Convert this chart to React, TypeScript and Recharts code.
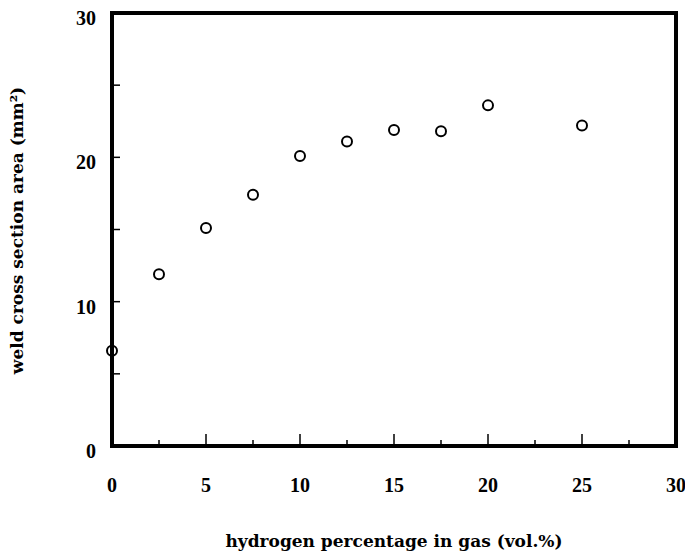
import { ReferenceArea, Scatter, ScatterChart, XAxis, YAxis } from 'recharts'

const hydrogen = [0, 2.5, 5, 7.5, 10, 12.5, 15, 17.5, 20, 25]
const area = [6.6, 11.9, 15.1, 17.4, 20.1, 21.1, 21.9, 21.8, 23.6, 22.2]
const xTicks = [0, 2.5, 5, 7.5, 10, 12.5, 15, 17.5, 20, 22.5, 25, 27.5, 30]
const yTicks = [0, 5, 10, 15, 20, 25, 30]

const data = hydrogen.map((h, i) => ({ x: h, y: area[i] }))

const tickFont = { fontFamily: '"Liberation Serif", serif', fontWeight: 700, fontSize: 20 }
const titleFont = { fontFamily: '"DejaVu Serif", serif', fontWeight: 700, fontSize: 17 }

function XTick(p: any) {
  const v = p.payload.value
  const major = v % 5 === 0
  return (
    <g>
      <line x1={p.x} x2={p.x} y1={p.y} y2={p.y - (major ? 12 : 6)} stroke="#000" strokeWidth={1.5} />
      {major && (
        <text x={p.x} y={p.y + 46} textAnchor="middle" fill="#000" style={tickFont}>
          {v}
        </text>
      )}
    </g>
  )
}

function YTick(p: any) {
  const v = p.payload.value
  return (
    <g>
      <line x1={p.x} x2={p.x + 8} y1={p.y} y2={p.y} stroke="#000" strokeWidth={1.5} />
      {v % 10 === 0 && (
        <text x={p.x - 16} y={p.y + 12} textAnchor="end" fill="#000" style={tickFont}>
          {v}
        </text>
      )}
    </g>
  )
}

const Dot = (p: any) => <circle cx={p.cx} cy={p.cy} r={5} fill="none" stroke="#000" strokeWidth={2} />

export default function App() {
  return (
    <div style={{ position: 'absolute', left: 0, top: 0, background: '#fff' }}>
      <ScatterChart width={685} height={556} margin={{ top: 13, right: 9, left: 0, bottom: 0 }}>
        <XAxis
          dataKey="x"
          type="number"
          domain={[0, 30]}
          ticks={xTicks}
          interval={0}
          height={110}
          axisLine={false}
          tickLine={false}
          tickSize={0}
          tickMargin={0}
          tick={XTick}
          label={{
            value: 'hydrogen percentage in gas (vol.%)',
            position: 'insideBottom',
            offset: 9,
            fill: '#000',
            style: titleFont,
          }}
        />
        <YAxis
          dataKey="y"
          type="number"
          domain={[0, 30]}
          ticks={yTicks}
          interval={0}
          width={112}
          axisLine={false}
          tickLine={false}
          tickSize={0}
          tickMargin={0}
          tick={YTick}
          label={{
            content: ({ viewBox }: any) => {
              const cx = 23
              const cy = viewBox.y + viewBox.height / 2 + 1
              return (
                <text x={cx} y={cy} transform={`rotate(-90 ${cx} ${cy})`} textAnchor="middle" fill="#000" style={titleFont}>
                  weld cross section area (mm²)
                </text>
              )
            },
          }}
        />
        <ReferenceArea x1={0} x2={30} y1={0} y2={30} fill="none" stroke="#000" strokeWidth={4} fillOpacity={0} />
        <Scatter data={data} shape={Dot} isAnimationActive={false} />
      </ScatterChart>
    </div>
  )
}
